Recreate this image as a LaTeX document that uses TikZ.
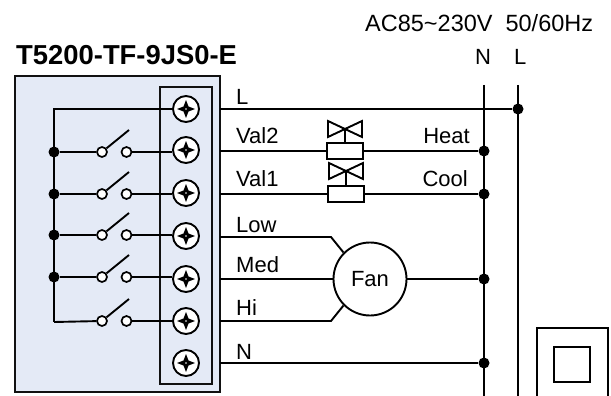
\documentclass[tikz,border=0pt]{standalone}
\usepackage{fontspec}
\setmainfont{Liberation Sans}
\usetikzlibrary{calc}

\definecolor{panel}{HTML}{E4EAF6}
\definecolor{panelline}{HTML}{111111}

\tikzset{
    wire/.style={line width=1.9pt},
    junction/.style={circle, fill=black, inner sep=0pt, minimum size=11pt},
    contact/.style={circle, draw, fill=white, line width=1.7pt, inner sep=0pt, minimum size=10pt},
    terminal/.style={circle, draw, fill=white, line width=1.9pt, inner sep=0pt, minimum size=26pt},
    coil/.style={rectangle, draw, fill=white, line width=1.9pt, inner sep=0pt, minimum width=36pt, minimum height=16pt},
    lbl/.style={anchor=base west, inner sep=0pt, font=\fontsize{22}{24}\selectfont},
    lblr/.style={anchor=base east, inner sep=0pt, font=\fontsize{22}{24}\selectfont},
}

\begin{document}
\begin{tikzpicture}[x=1pt, y=-1pt]
    \useasboundingbox (0, 0) rectangle (611, 396);

    \draw[panelline, fill=panel, line width=2.4pt] (15, 76) rectangle (220, 392);
    \draw[panelline, line width=1.9pt] (160, 87) rectangle (212, 384);

    \node[lbl, font=\fontsize{27.4}{30}\selectfont\bfseries] (title) at (16, 65) {T5200-TF-9JS0-E};
    \node[lbl, font=\fontsize{23.5}{26}\selectfont] (supply) at (365, 32) {AC85\textasciitilde 230V\ \ 50/60Hz};
    \node[lbl] (nname) at (475, 65) {N};
    \node[lbl] (lname) at (514, 65) {L};

    % terminals
    \foreach \i/\yy in {1/109, 2/150, 3/193, 4/236, 5/279, 6/321, 7/363} {
        \node[terminal] (t\i) at (186, \yy) {};
        \fill (t\i.center) ++(-9, 0) -- ++(6.5, -2.5) -- ++(2.5, -6.5) -- ++(2.5, 6.5) -- ++(6.5, 2.5)
            -- ++(-6.5, 2.5) -- ++(-2.5, 6.5) -- ++(-2.5, -6.5) -- cycle;
        \fill[white] (t\i.center) circle (0.8);
    }

    % power rails
    \coordinate (ntop) at (484, 85);
    \coordinate (nend) at (484, 396);
    \coordinate (ltop) at (518, 85);
    \coordinate (lend) at (518, 396);
    \draw[wire] (ntop) -- (nend);
    \draw[wire] (ltop) -- (lend);

    % common line of the relays
    \coordinate (com) at (54, 109);
    \coordinate (comend) at (54, 322);
    \draw[wire] (t1) -- (com) -- (comend);

    % relays
    \foreach \i/\yy in {2/152, 3/194, 4/235, 5/277, 6/321} {
        \coordinate (tip\i) at (129, \yy-22);
        \node[contact] (a\i) at (102, \yy) {};
        \node[contact] (b\i) at (126.5, \yy) {};
        \draw[wire] (a\i) -- (tip\i);
        \draw[wire] (b\i) -- (b\i -| t\i.west);
    }
    \foreach \i/\yy in {2/152, 3/194, 4/235, 5/277} {
        \node[junction] (c\i) at (54, \yy) {};
        \draw[wire] (c\i) -- (a\i);
    }
    \draw[wire] (comend) -- (a6);

    % outgoing wires
    \foreach \i/\yy in {1/109, 2/151, 3/194, 4/237, 5/279, 6/321, 7/363} {
        \coordinate (w\i) at (220, \yy);
    }
    \node[junction] (jl) at (518, 109) {};
    \node[junction] (j2) at (484, 151) {};
    \node[junction] (j3) at (484, 194) {};
    \node[junction] (j5) at (484, 279) {};
    \node[junction] (j7) at (484, 363) {};
    \draw[wire] (w1) -- (jl);
    \draw[wire] (w7) -- (j7);

    % valves
    \node[coil] (coil2) at (345, 151) {};
    \node[coil] (coil1) at (346, 194) {};
    \draw[wire] (w2) -- (coil2);
    \draw[wire] (coil2) -- (j2);
    \draw[wire] (w3) -- (coil1);
    \draw[wire] (coil1) -- (j3);
    \coordinate (v2) at (345, 129);
    \coordinate (v1) at (346, 171);
    \draw[wire, line join=miter] ($(v2)+(-17, -8)$) -- ($(v2)+(17, 8)$) -- ($(v2)+(17, -8)$) -- ($(v2)+(-17, 8)$) -- cycle;
    \draw[wire, line join=miter] ($(v1)+(-17, -8)$) -- ($(v1)+(17, 8)$) -- ($(v1)+(17, -8)$) -- ($(v1)+(-17, 8)$) -- cycle;
    \draw[wire] (v2) -- (coil2.north);
    \draw[wire] (v1) -- (coil1.north);

    % fan
    \node[circle, draw, line width=1.9pt, inner sep=0pt, minimum size=73pt, font=\fontsize{22}{24}\selectfont] (fan) at (370, 279) {Fan};
    \coordinate (lowbend) at (331, 237);
    \coordinate (hibend) at (331, 321);
    \draw[wire] (w4) -- (lowbend) -- (fan.135);
    \draw[wire] (w5) -- (fan);
    \draw[wire] (w6) -- (hibend) -- (fan.225);
    \draw[wire] (fan) -- (j5);

    % labels
    \node[lbl] (ll) at (236, 104) {L};
    \node[lbl] (lval2) at (236, 143) {Val2};
    \node[lbl] (lval1) at (236, 186) {Val1};
    \node[lbl] (llow) at (236, 232) {Low};
    \node[lbl] (lmed) at (236, 272) {Med};
    \node[lbl] (lhi) at (236, 315) {Hi};
    \node[lbl] (ln) at (236, 359) {N};
    \node[lblr] (lheat) at (470, 143) {Heat};
    \node[lblr] (lcool) at (468, 186) {Cool};

    % wall box
    \draw[line width=1.6pt] (537, 396) -- (537, 328) -- (608, 328) -- (608, 396);
    \draw[line width=1.6pt] (554, 347) rectangle (590, 382);
\end{tikzpicture}
\end{document}
